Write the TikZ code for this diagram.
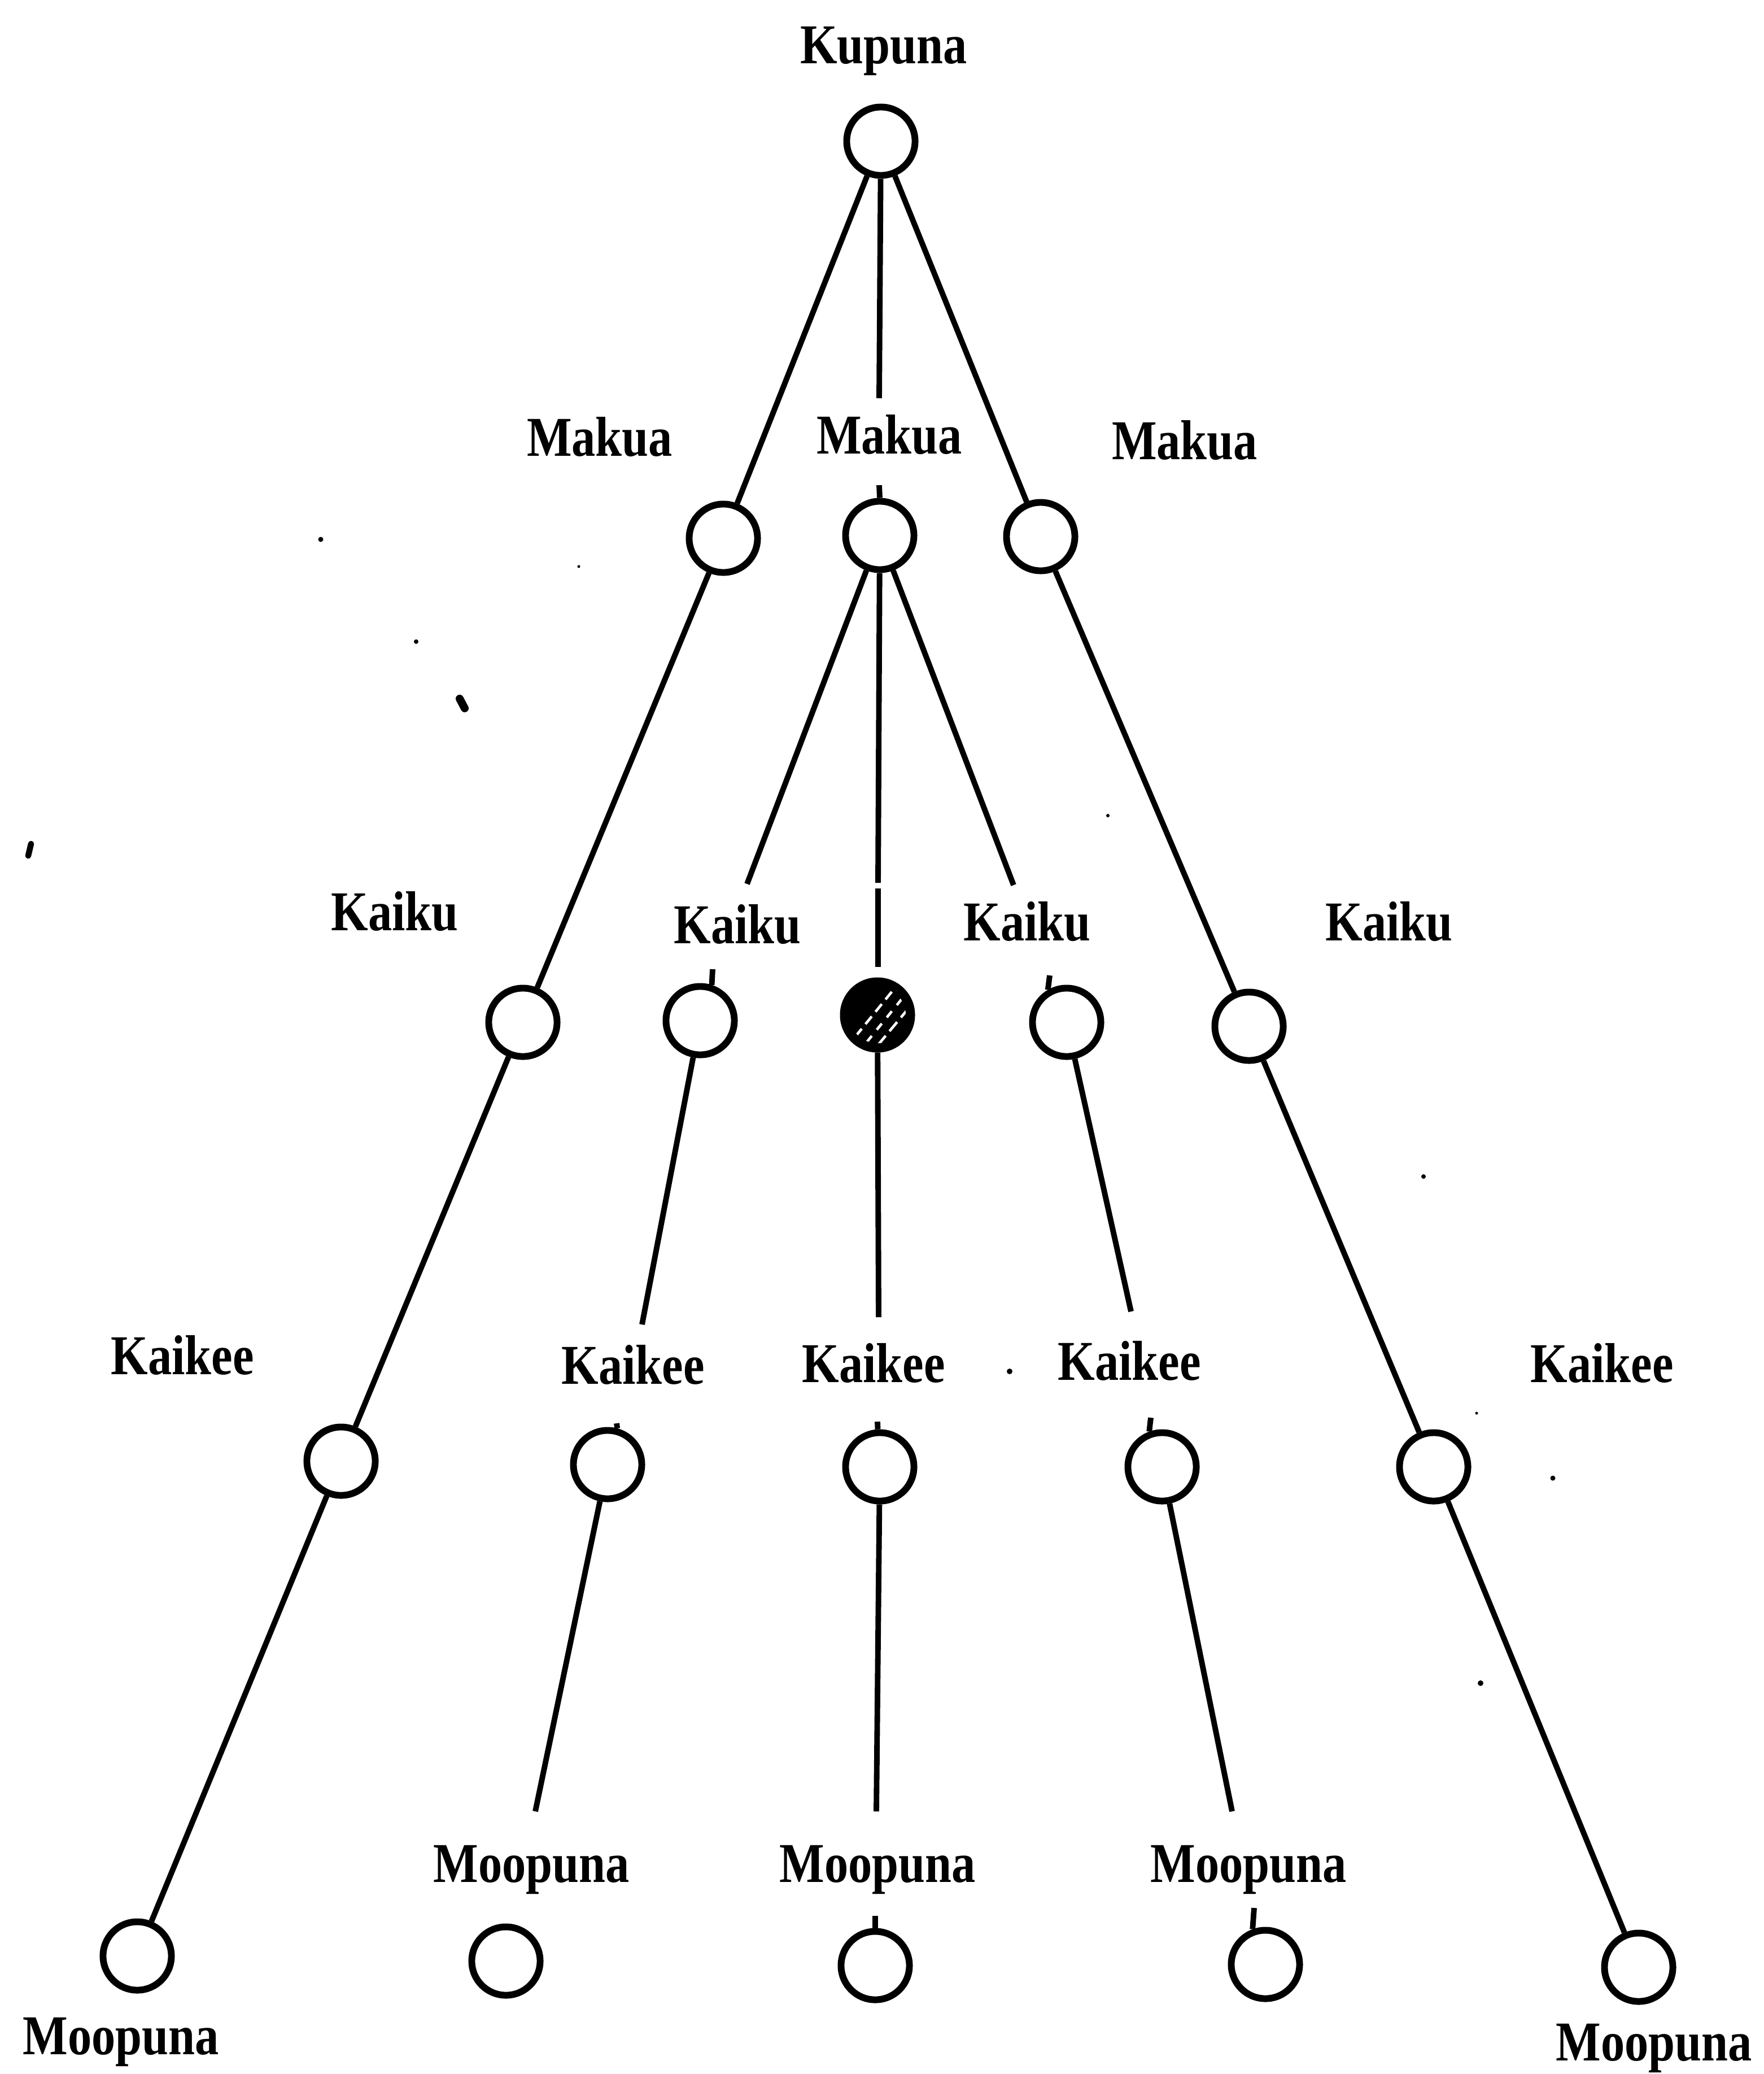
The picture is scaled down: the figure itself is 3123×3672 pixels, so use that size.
\documentclass[tikz,border=0pt]{standalone}
\usepackage{fontspec}
\setmainfont{Liberation Serif}
\usepackage{graphicx}
\newcommand{\tallt}[1]{\scalebox{1}[1.18]{#1}}
\begin{document}
\begin{tikzpicture}[x=0.01cm,y=-0.01cm,
  pers/.style={circle,draw,line width=3.4pt,minimum size=1.21cm,inner sep=0pt},
  lab/.style={anchor=base,inner sep=0pt,font=\fontsize{24}{28}\selectfont\bfseries},
  ln/.style={line width=2.8pt},
  tk/.style={line width=2.8pt}]
\useasboundingbox (0,0) rectangle (3123,3672);
\fill[white] (0,0) rectangle (3123,3672);

% persons
\node[pers] (K) at (1560,250) {};
\node[pers] (M1) at (1281,953) {};
\node[pers] (M2) at (1558,948) {};
\node[pers] (M3) at (1843,950) {};
\node[pers] (A1) at (926,1810) {};
\node[pers] (A2) at (1240,1807) {};
\node[pers,fill=black] (A3) at (1554,1797) {};
\node[pers] (A4) at (1889,1810) {};
\node[pers] (A5) at (2212,1817) {};
\node[pers] (B1) at (604,2587) {};
\node[pers] (B2) at (1076,2593) {};
\node[pers] (B3) at (1558,2597) {};
\node[pers] (B4) at (2058,2597) {};
\node[pers] (B5) at (2539,2597) {};
\node[pers] (C1) at (243,3463) {};
\node[pers] (C2) at (896,3472) {};
\node[pers] (C3) at (1550,3480) {};
\node[pers] (C4) at (2241,3478) {};
\node[pers] (C5) at (2902,3483) {};

% hatching on the filled circle
\begin{scope}
\clip (A3) circle (0.5cm);
\draw[white,line width=1.3pt,dash pattern=on 5pt off 3pt] (1515,1835) -- (1580,1755);
\draw[white,line width=1.3pt,dash pattern=on 4pt off 4pt] (1535,1845) -- (1600,1765);
\draw[white,line width=1.3pt,dash pattern=on 6pt off 3pt] (1555,1850) -- (1605,1790);
\end{scope}

% free ends
\coordinate (k0) at (1557,705);
\coordinate (m2a) at (1323,1565);
\coordinate (m2b1) at (1555,1563);
\coordinate (m2b2) at (1555,1573);
\coordinate (m2b3) at (1555,1712);
\coordinate (m2c) at (1795,1567);
\coordinate (a2e) at (1137,2345);
\coordinate (a3e) at (1556,2332);
\coordinate (a4e) at (2003,2322);
\coordinate (b2e) at (948,3207);
\coordinate (b3e) at (1552,3207);
\coordinate (b4e) at (2182,3207);

% connectors
\draw[ln] (K) -- (M1);
\draw[ln] (K) -- (M3);
\draw[ln] (K) -- (k0);
\draw[ln] (M1) -- (A1);
\draw[ln] (M3) -- (A5);
\draw[ln] (M2) -- (m2a);
\draw[ln] (M2) -- (m2b1);
\draw[ln] (m2b2) -- (m2b3);
\draw[ln] (M2) -- (m2c);
\draw[ln] (A1) -- (B1);
\draw[ln] (A2) -- (a2e);
\draw[ln] (A3) -- (a3e);
\draw[ln] (A4) -- (a4e);
\draw[ln] (A5) -- (B5);
\draw[ln] (B1) -- (C1);
\draw[ln] (B2) -- (b2e);
\draw[ln] (B3) -- (b3e);
\draw[ln] (B4) -- (b4e);
\draw[ln] (B5) -- (C5);

% small ticks
\coordinate (t1) at (1557,859);
\coordinate (t2) at (1262,1716);
\coordinate (t3) at (1859,1727);
\coordinate (t4) at (1092,2520);
\coordinate (t5) at (1554,2517);
\coordinate (t6) at (2038,2510);
\coordinate (t7) at (1550,3392);
\coordinate (t8) at (2221,3378);
\draw[tk] (t1) -- (M2.north);
\draw[tk] (t2) -- (A2.72);
\draw[tk] (t3) -- (A4.120);
\draw[tk] (t4) -- (B2.75);
\draw[tk] (t5) -- (B3.93);
\draw[tk] (t6) -- (B4.110);
\draw[tk] (t7) -- (C3.north);
\draw[tk] (t8) -- (C4.110);

% specks
\fill (568,955) circle (0.045cm);
\fill (1025,1003) circle (0.025cm);
\fill (737,1136) circle (0.04cm);
\draw[line width=4pt,line cap=round] (814,1237) -- (823,1254);
\draw[line width=3pt,line cap=round] (55,1494) -- (50,1515);
\fill (1962,1444) circle (0.03cm);
\fill (2521,2083) circle (0.04cm);
\fill (1788,2428) circle (0.05cm);
\fill (2615,2502) circle (0.025cm);
\fill (2750,2617) circle (0.045cm);
\fill (2622,2980) circle (0.05cm);

% labels
\node[lab] (lK) at (1565,112) {\tallt{Kupuna}};
\node[lab] (lM1) at (1062,807) {\tallt{Makua}};
\node[lab] (lM2) at (1575,803) {\tallt{Makua}};
\node[lab] (lM3) at (2098,813) {\tallt{Makua}};
\node[lab] (lA1) at (699,1647) {\tallt{Kaiku}};
\node[lab] (lA2) at (1306,1670) {\tallt{Kaiku}};
\node[lab] (lA4) at (1819,1665) {\tallt{Kaiku}};
\node[lab] (lA5) at (2460,1665) {\tallt{Kaiku}};
\node[lab] (lB1) at (323,2433) {\tallt{Kaikee}};
\node[lab] (lB2) at (1121,2450) {\tallt{Kaikee}};
\node[lab] (lB3) at (1547,2447) {\tallt{Kaikee}};
\node[lab] (lB4) at (2000,2443) {\tallt{Kaikee}};
\node[lab] (lB5) at (2837,2447) {\tallt{Kaikee}};
\node[lab] (lC2) at (941,3332) {\tallt{Moopuna}};
\node[lab] (lC3) at (1554,3332) {\tallt{Moopuna}};
\node[lab] (lC4) at (2211,3332) {\tallt{Moopuna}};
\node[lab] (lC1) at (214,3637) {\tallt{Moopuna}};
\node[lab] (lC5) at (2929,3648) {\tallt{Moopuna}};
\end{tikzpicture}
\end{document}
